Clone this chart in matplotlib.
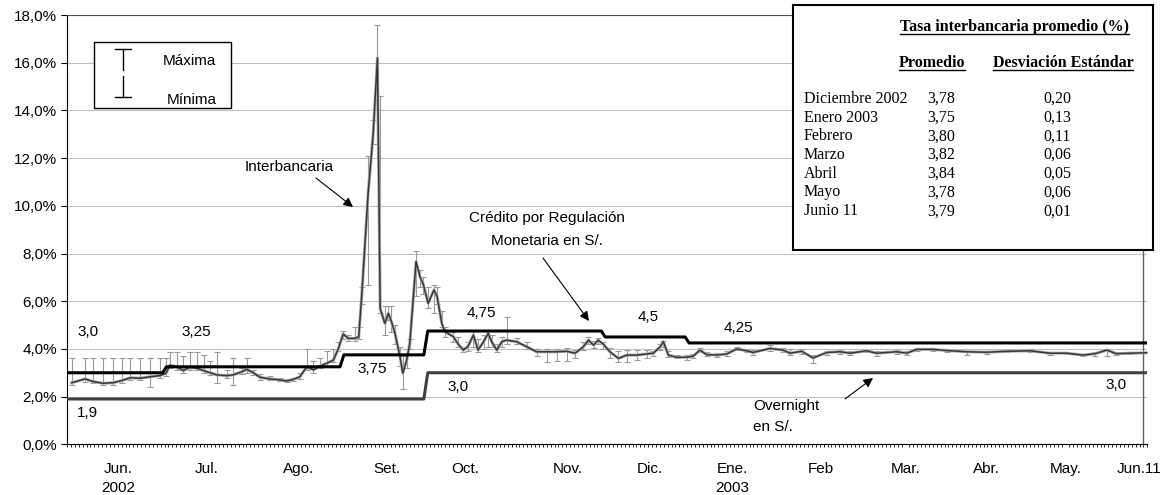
import numpy as np
import matplotlib
matplotlib.use('Agg')
import matplotlib.pyplot as plt
from matplotlib.lines import Line2D
from matplotlib.patches import Rectangle

W, H = 1175, 495

# interbank rate (%): business-day index, average, max, min
ib_day = [1.2, 4.6, 6.7, 9.2, 11.8, 14.0, 16.2, 18.7, 21.3, 23.8,
          25.4, 26.4, 28.1, 29.8, 31.5, 33.3, 35.0, 36.7, 38.4, 40.9,
          42.6, 44.8, 46.1, 47.8, 49.5, 52.0, 54.6, 56.3, 58.0, 59.7,
          61.5, 63.2, 64.9, 66.6, 68.3, 69.6, 70.8, 72.1, 73.8, 74.8,
          75.6, 77.2, 78.5, 79.6, 80.3, 81.5, 82.4, 83.2, 84.1, 85.4,
          86.1, 87.1, 87.9, 89.5, 90.5, 91.4, 92.6, 94.1, 94.9, 96.1,
          96.9, 99.1, 100.3, 101.6, 102.8, 104.2, 105.4, 106.8, 108.0, 108.9,
          110.2, 111.5, 112.7, 115.3, 117.9, 120.4, 123.0, 125.6, 128.1, 130.3,
          132.4, 133.7, 135.0, 136.2, 137.5, 139.2, 141.4, 143.5, 146.1, 148.6,
          150.3, 152.1, 152.9, 154.2, 156.3, 158.9, 160.6, 162.3, 164.0, 166.6,
          169.2, 171.7, 174.3, 175.9, 180.3, 183.6, 185.4, 188.4, 191.3, 194.8,
          198.2, 200.8, 205.0, 207.6, 212.7, 215.3, 217.9, 222.1, 225.6, 230.7,
          235.8, 240.9, 246.9, 252.0, 256.3, 260.6, 263.6, 266.6, 269.1, 272.6,
          276.9]
ib_avg = [2.58, 2.74, 2.63, 2.56, 2.58, 2.67, 2.79, 2.77, 2.83, 2.88,
          2.98, 3.32, 3.25, 3.09, 3.23, 3.19, 3.09, 3.00, 2.91, 2.88,
          2.91, 3.04, 3.14, 3.00, 2.81, 2.74, 2.70, 2.65, 2.72, 2.83,
          3.25, 3.12, 3.28, 3.40, 3.53, 4.02, 4.62, 4.44, 4.44, 4.50,
          6.30, 10.5, 13.0, 16.2, 5.70, 5.07, 5.49, 5.14, 4.65, 3.67,
          2.98, 3.53, 4.23, 7.66, 7.03, 6.68, 5.91, 6.47, 6.20, 5.07,
          4.72, 4.51, 4.20, 3.95, 4.10, 4.58, 3.95, 4.30, 4.65, 4.30,
          3.95, 4.30, 4.37, 4.30, 4.09, 3.88, 3.88, 3.88, 3.90, 3.82,
          4.09, 4.37, 4.16, 4.37, 4.20, 3.88, 3.60, 3.74, 3.74, 3.79,
          3.82, 4.09, 4.30, 3.74, 3.65, 3.65, 3.70, 3.95, 3.76, 3.74,
          3.79, 4.00, 3.92, 3.85, 4.02, 3.95, 3.82, 3.90, 3.62, 3.85,
          3.88, 3.82, 3.92, 3.82, 3.88, 3.82, 3.98, 3.98, 3.93, 3.88,
          3.86, 3.90, 3.92, 3.82, 3.82, 3.74, 3.80, 3.95, 3.80, 3.82,
          3.84]
ib_max = [3.60, 3.60, 3.60, 3.60, 3.60, 3.60, 3.60, 3.60, 3.60, 3.60,
          3.60, 3.86, 3.85, 3.70, 3.88, 3.85, 3.75, 3.50, 3.88, 3.10,
          3.60, 3.20, 3.60, 3.10, 2.95, 2.85, 2.80, 2.75, 2.80, 3.00,
          4.00, 3.50, 3.60, 3.90, 4.00, 4.30, 4.75, 4.60, 4.90, 4.90,
          6.60, 12.1, 13.6, 17.6, 14.6, 5.80, 5.80, 5.80, 5.00, 4.10,
          3.70, 4.00, 4.40, 8.10, 7.30, 7.00, 6.60, 6.70, 6.60, 5.60,
          4.90, 4.70, 4.50, 4.10, 4.30, 4.80, 4.40, 4.60, 4.80, 4.60,
          4.20, 4.50, 5.35, 4.45, 4.30, 4.00, 4.00, 4.00, 4.05, 3.95,
          4.30, 4.50, 4.35, 4.45, 4.30, 4.05, 3.90, 3.95, 3.95, 3.95,
          3.90, 4.20, 4.35, 3.90, 3.75, 3.75, 3.80, 4.05, 3.85, 3.82,
          3.90, 4.10, 4.00, 3.95, 4.15, 4.05, 4.00, 4.00, 3.75, 3.90,
          3.95, 3.90, 3.95, 3.90, 3.95, 3.90, 4.05, 4.05, 3.98, 3.92,
          3.90, 3.95, 3.98, 3.85, 3.85, 3.80, 3.85, 4.00, 3.85, 3.85,
          3.86]
ib_min = [2.49, 2.60, 2.55, 2.50, 2.50, 2.55, 2.70, 2.70, 2.39, 2.80,
          2.85, 3.20, 3.10, 3.00, 3.10, 3.10, 3.00, 2.90, 2.58, 2.80,
          2.49, 2.95, 3.00, 2.90, 2.70, 2.70, 2.65, 2.60, 2.65, 2.75,
          3.10, 3.00, 3.20, 3.30, 3.45, 3.90, 4.40, 4.35, 4.35, 4.40,
          5.90, 6.70, 12.6, 12.6, 5.50, 4.60, 5.20, 4.70, 4.20, 3.30,
          2.30, 3.20, 4.00, 6.20, 6.60, 6.30, 5.70, 5.50, 5.90, 4.90,
          4.50, 4.30, 4.10, 3.85, 3.90, 4.10, 3.85, 4.00, 4.10, 4.10,
          3.85, 4.10, 4.20, 4.20, 4.00, 3.70, 3.46, 3.50, 3.50, 3.60,
          3.95, 4.20, 4.05, 4.20, 4.00, 3.60, 3.45, 3.45, 3.55, 3.60,
          3.70, 3.95, 4.10, 3.65, 3.60, 3.55, 3.60, 3.85, 3.70, 3.68,
          3.70, 3.95, 3.85, 3.75, 3.90, 3.85, 3.75, 3.80, 3.40, 3.75,
          3.80, 3.75, 3.85, 3.70, 3.80, 3.75, 3.92, 3.90, 3.88, 3.75,
          3.80, 3.85, 3.88, 3.75, 3.78, 3.70, 3.70, 3.70, 3.75, 3.80,
          3.82]

# policy rates: day of change and level
credit_days = [0, 25, 70.5, 92, 137.5, 159]
credit_levels = [3.0, 3.25, 3.75, 4.75, 4.5, 4.25]
overnight_days = [0, 92]
overnight_levels = [1.9, 3.0]

month_days = [13.1, 35.8, 59.4, 81.9, 102.2, 128.5, 149.4, 170.6, 193.2, 215.0, 235.8, 256.0, 274.9]
month_labels = ['Jun.\n2002', 'Jul.', 'Ago.', 'Set.', 'Oct.', 'Nov.', 'Dic.', 'Ene.\n2003',
                'Feb', 'Mar.', 'Abr.', 'May.', 'Jun.11']

table_rows = ['Diciembre 2002', 'Enero 2003', 'Febrero', 'Marzo', 'Abril', 'Mayo', 'Junio 11']
table_avg = ['3,78', '3,75', '3,80', '3,82', '3,84', '3,78', '3,79']
table_std = ['0,20', '0,13', '0,11', '0,06', '0,05', '0,06', '0,01']

X_END = 277


def steps(days, levels, half=0.5):
    xs, ys = [days[0]], [levels[0]]
    for i in range(1, len(days)):
        xs += [days[i] - half, days[i] + half]
        ys += [levels[i - 1], levels[i]]
    xs.append(X_END)
    ys.append(levels[-1])
    return xs, ys


sans = 'Liberation Sans'
serif = 'Liberation Serif'
plt.rcParams['font.family'] = [sans, 'DejaVu Sans']

fig = plt.figure(figsize=(W / 100, H / 100), dpi=100)
ax = fig.add_axes([67 / W, (H - 444.3) / H, (1147.3 - 67) / W, 429.3 / H])


def put(x, y, s, **kw):
    # place text using pixel coords measured from top-left
    kw.setdefault('fontsize', 11)
    kw.setdefault('ha', 'center')
    kw.setdefault('va', 'center')
    return fig.text(x / W, 1 - y / H, s, **kw)


ax.set_xlim(0, X_END)
ax.set_ylim(0, 18)
ax.set_yticks(np.arange(0, 19, 2))
ax.set_yticklabels([('%.1f%%' % v).replace('.', ',') for v in np.arange(0, 19, 2)], fontsize=11)
ax.yaxis.grid(True, color='#c0c0c0', lw=0.8)
ax.set_axisbelow(True)
ax.tick_params(axis='y', length=4, width=0.8, direction='out', pad=3)

ax.set_xticks(month_days)
ax.set_xticklabels(month_labels, fontsize=11)
ax.set_xticks(np.arange(0, X_END + 1, 1), minor=True)
ax.tick_params(axis='x', which='major', length=0, pad=13)
ax.tick_params(axis='x', which='minor', length=2.5, width=0.6, direction='out')
for t in ax.get_xticklabels():
    t.set_linespacing(1.45)

for s in ['left', 'bottom']:
    ax.spines[s].set_color('black')
ax.spines['top'].set_color('#505050')
ax.spines['right'].set_visible(False)
ax.axvline(276, color='#606060', lw=1)

# interbank series with max/min bars
avg = np.array(ib_avg)
err = [avg - np.array(ib_min), np.array(ib_max) - avg]
ax.errorbar(ib_day, ib_avg, yerr=err, fmt='none', ecolor='#9a9a9a', elinewidth=0.8,
            capsize=2.5, capthick=0.8, zorder=2)
ax.plot(ib_day, ib_avg, color='#b0b0b0', lw=2.2, zorder=3, solid_joinstyle='round')
ax.plot(ib_day, ib_avg, color='#383838', lw=1.1, zorder=4)

cx, cy = steps(credit_days, credit_levels)
ax.plot(cx, cy, color='black', lw=2.2, zorder=5)
ox, oy = steps(overnight_days, overnight_levels)
ax.plot(ox, oy, color='#404040', lw=2.2, zorder=5)

# rate labels
for x, y, s in [(88, 332, '3,0'), (196, 332, '3,25'), (372, 369, '3,75'), (481, 313, '4,75'),
                (648, 317, '4,5'), (738, 328, '4,25'), (87, 413, '1,9'), (458, 387, '3,0'),
                (1116, 385, '3,0')]:
    put(x, y, s)

# annotations with arrows
arrow = dict(arrowstyle='-|>', color='black', lw=0.8, mutation_scale=14, shrinkA=0, shrinkB=0)
put(289, 167, 'Interbancaria')
ax.annotate('', xy=(353, H - 207), xytext=(316, H - 178), xycoords='figure pixels',
            textcoords='figure pixels', arrowprops=arrow)
put(547, 218, 'Crédito por Regulación')
put(547, 241, 'Monetaria en S/.')
ax.annotate('', xy=(589, H - 321), xytext=(543, H - 258), xycoords='figure pixels',
            textcoords='figure pixels', arrowprops=arrow)
put(753, 406, 'Overnight', ha='left')
put(753, 427, 'en S/.', ha='left')
ax.annotate('', xy=(873, H - 378), xytext=(845, H - 399), xycoords='figure pixels',
            textcoords='figure pixels', arrowprops=arrow)

# max/min legend box
fig.patches.append(Rectangle((94 / W, 1 - 108 / H), 137 / W, 66 / H, transform=fig.transFigure,
                             fill=True, facecolor='white', edgecolor='black', lw=1, zorder=6))
bx = 123
for (x0, y0, x1, y1) in [(bx, 49, bx, 70), (bx, 76, bx, 97), (bx - 8, 49, bx + 8, 49),
                         (bx - 8, 97, bx + 8, 97)]:
    fig.lines.append(Line2D([x0 / W, x1 / W], [1 - y0 / H, 1 - y1 / H], transform=fig.transFigure,
                            color='black', lw=1, zorder=7))
put(163, 61, 'Máxima', ha='left', zorder=8)
put(167, 100, 'Mínima', ha='left', zorder=8)

# summary table
fig.patches.append(Rectangle((793 / W, 1 - 250 / H), 360 / W, 245 / H, transform=fig.transFigure,
                             facecolor='white', edgecolor='black', lw=1.5, zorder=6))
under = []
under.append(put(1014, 27, 'Tasa interbancaria promedio (%)', family=serif, fontsize=11.5,
                 weight='bold', zorder=8))
under.append(put(932, 63, 'Promedio', family=serif, fontsize=11.5, weight='bold', zorder=8))
under.append(put(1063, 63, 'Desviación Estándar', family=serif, fontsize=11.5, weight='bold', zorder=8))
for i, (r, a, s) in enumerate(zip(table_rows, table_avg, table_std)):
    y = 99 + i * 18.7
    put(804, y, r, family=serif, fontsize=11.5, ha='left', zorder=8)
    put(927, y, a, family=serif, fontsize=11.5, ha='left', zorder=8)
    put(1043, y, s, family=serif, fontsize=11.5, ha='left', zorder=8)

fig.canvas.draw()
rend = fig.canvas.get_renderer()
for t in under:
    bb = t.get_window_extent(rend)
    yl = (bb.y0 + 1) / H
    fig.lines.append(Line2D([bb.x0 / W, bb.x1 / W], [yl, yl], transform=fig.transFigure,
                            color='black', lw=1, zorder=8))

fig.savefig('out.png', dpi=100, facecolor='white')
